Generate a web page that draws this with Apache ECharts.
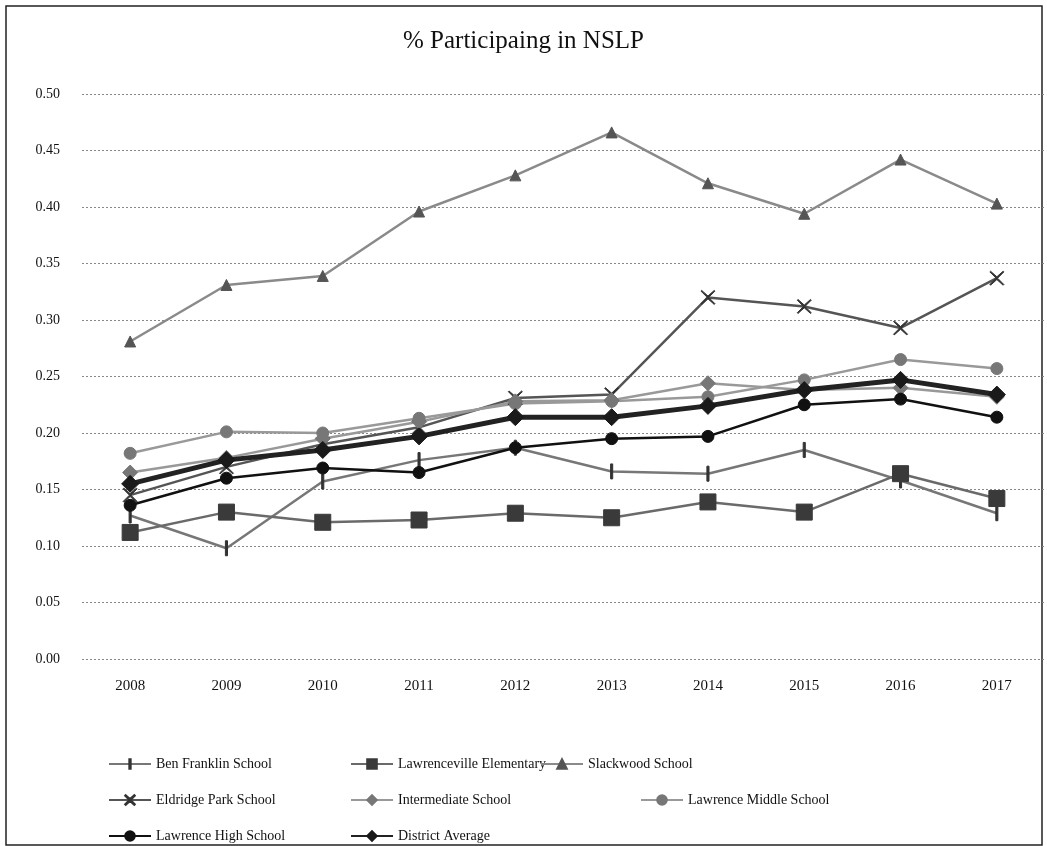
<!DOCTYPE html>
<html>
<head>
<meta charset="utf-8">
<script src="https://cdn.jsdelivr.net/npm/echarts@6/dist/echarts.min.js"></script>
<style>
  html, body { margin: 0; padding: 0; background: #fff; }
  #chart { width: 1047px; height: 846px; }
</style>
</head>
<body>
<div id="chart"></div>
<script>
// values
const years = ["2008", "2009", "2010", "2011", "2012", "2013", "2014", "2015", "2016", "2017"];
const benFranklin = [0.127, 0.098, 0.157, 0.176, 0.187, 0.166, 0.164, 0.185, 0.158, 0.129];
const lawrencevilleElem = [0.112, 0.130, 0.121, 0.123, 0.129, 0.125, 0.139, 0.130, 0.164, 0.142];
const slackwood = [0.281, 0.331, 0.339, 0.396, 0.428, 0.466, 0.421, 0.394, 0.442, 0.403];
const eldridgePark = [0.145, 0.170, 0.190, 0.205, 0.231, 0.234, 0.320, 0.312, 0.293, 0.337];
const intermediate = [0.165, 0.178, 0.195, 0.210, 0.228, 0.229, 0.244, 0.238, 0.240, 0.232];
const lawrenceMiddle = [0.182, 0.201, 0.200, 0.213, 0.226, 0.228, 0.232, 0.247, 0.265, 0.257];
const lawrenceHigh = [0.136, 0.160, 0.169, 0.165, 0.187, 0.195, 0.197, 0.225, 0.230, 0.214];
const districtAvg = [0.155, 0.176, 0.185, 0.197, 0.214, 0.214, 0.224, 0.238, 0.247, 0.234];

const FONT = "Liberation Serif";
// vertical tick inside a square box (empty points keep the box square)
const plusPath = "path://M0,10 L0,10 Z M20,10 L20,10 Z M8.6,0 L11.4,0 L11.4,20 L8.6,20 Z";
const crossPath = "path://M1,0 L10,8 L19,0 L20,1 L11,10 L20,19 L19,20 L10,12 L1,20 L0,19 L9,10 L0,1 Z";

// name, data, line colour, line width, symbol, symbol size, marker colour
const seriesDefs = [
  ["Ben Franklin School", benFranklin, "#777", 2.5, plusPath, 15, "#333"],
  ["Lawrenceville Elementary", lawrencevilleElem, "#6a6a6a", 2.5, "rect", 16, "#3a3a3a"],
  ["Slackwood School", slackwood, "#8a8a8a", 2.5, "triangle", 11, "#555"],
  ["Eldridge Park School", eldridgePark, "#555", 2.5, crossPath, 14, "#333"],
  ["Intermediate School", intermediate, "#999", 2.5, "diamond", 15, "#777"],
  ["Lawrence Middle School", lawrenceMiddle, "#999", 2.5, "circle", 12, "#777"],
  ["Lawrence High School", lawrenceHigh, "#111", 2.5, "circle", 12, "#111"],
  ["District Average", districtAvg, "#222", 5, "diamond", 17, "#1a1a1a"]
];

// legend spots follow the Excel flow layout
const legendPos = [
  [108, 766], [350, 766], [540, 766],
  [108, 802], [350, 802], [640, 802],
  [108, 838], [350, 838]
];

const chart = echarts.init(document.getElementById("chart"));

const option = {
  backgroundColor: "#fff",
  title: {
    text: "% Participaing in NSLP",
    left: "center",
    top: 24,
    textStyle: { fontFamily: FONT, fontSize: 25, fontWeight: "normal", color: "#111" }
  },
  grid: { left: 82, right: 2, top: 94, bottom: 187 },
  legend: seriesDefs.map((d, i) => ({
    data: [d[0]],
    left: legendPos[i][0],
    top: legendPos[i][1] - 9,
    itemWidth: 42,
    itemHeight: 12,
    textStyle: { fontFamily: FONT, fontSize: 14, color: "#111" },
    padding: 0,
    itemGap: 2
  })),
  xAxis: {
    type: "category",
    data: years,
    boundaryGap: true,
    axisLine: { show: false },
    axisTick: { show: false },
    axisLabel: { fontFamily: FONT, fontSize: 15, color: "#111", margin: 20 }
  },
  yAxis: {
    type: "value",
    min: 0,
    max: 0.5,
    interval: 0.05,
    axisLine: { show: false },
    axisTick: { show: false },
    axisLabel: {
      fontFamily: FONT, fontSize: 14, color: "#111", margin: 22,
      formatter: (v) => v.toFixed(2)
    },
    splitLine: { lineStyle: { color: "#888", type: [2, 2], width: 1 } }
  },
  graphic: [{
    type: "rect",
    shape: { x: 6, y: 6, width: 1036, height: 839 },
    style: { fill: "none", stroke: "#222", lineWidth: 1.5 },
    silent: true
  }],
  series: seriesDefs.map((d) => ({
    name: d[0],
    type: "line",
    data: d[1],
    symbol: d[4],
    symbolSize: d[5],
    showAllSymbol: true,
    lineStyle: { color: d[2], width: d[3] },
    itemStyle: { color: d[6], borderColor: d[6], borderWidth: 1 },
    emphasis: { disabled: true },
    z: d[0] === "District Average" ? 3 : 2
  })),
  animation: false
};

chart.setOption(option);
window.onresize = chart.resize;
</script>
</body>
</html>
